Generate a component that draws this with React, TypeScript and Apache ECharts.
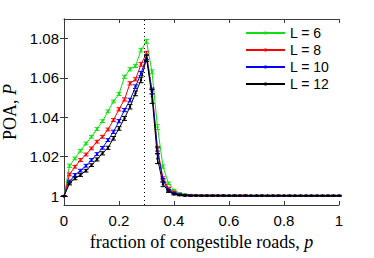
import React, { useEffect, useRef } from "react";
import * as echarts from "echarts";

const pValues = [
  0, 0.02, 0.04, 0.06, 0.08, 0.1, 0.12, 0.14, 0.16, 0.18, 0.2, 0.22, 0.24, 0.26, 0.28, 0.3,
  0.32, 0.34, 0.36, 0.38, 0.4, 0.42, 0.44, 0.46, 0.48, 0.5, 0.52, 0.54, 0.56, 0.58, 0.6,
  0.62, 0.64, 0.66, 0.68, 0.7, 0.72, 0.74, 0.76, 0.78, 0.8, 0.82, 0.84, 0.86, 0.88, 0.9,
  0.92, 0.94, 0.96, 0.98, 1.0,
];

const seriesNames = ["L = 6", "L = 8", "L = 10", "L = 12"];
const seriesColors = ["#10e010", "#ff0000", "#0000ff", "#000000"];

const poaL6 = [
  1.0, 1.0154, 1.0191, 1.023, 1.0267, 1.0301, 1.034, 1.038, 1.043, 1.048, 1.0518, 1.0605,
  1.0643, 1.066, 1.074, 1.0785, 1.063, 1.035, 1.015, 1.0065, 1.003, 1.0015, 1.0008, 1.0006,
  1.0005, 1.0004, 1.0004, 1.0003, 1.0004, 1.0003, 1.0003, 1.0004, 1.0003, 1.0003, 1.0002,
  1.0003, 1.0003, 1.0002, 1.0003, 1.0002, 1.0002, 1.0003, 1.0002, 1.0002, 1.0002, 1.0002,
  1.0002, 1.0002, 1.0002, 1.0002, 1.0002,
];
const poaL8 = [
  1.0, 1.011, 1.0149, 1.0183, 1.0211, 1.0242, 1.0276, 1.0301, 1.0338, 1.0386, 1.044, 1.049,
  1.0572, 1.0592, 1.0668, 1.0724, 1.053, 1.024, 1.009, 1.004, 1.002, 1.001, 1.0006, 1.0004,
  1.0004, 1.0003, 1.0003, 1.0004, 1.0003, 1.0003, 1.0002, 1.0003, 1.0003, 1.0004, 1.0002,
  1.0002, 1.0003, 1.0002, 1.0002, 1.0003, 1.0002, 1.0002, 1.0002, 1.0002, 1.0002, 1.0002,
  1.0002, 1.0002, 1.0002, 1.0002, 1.0002,
];
const poaL10 = [
  1.0, 1.0074, 1.0107, 1.0129, 1.0154, 1.0183, 1.0213, 1.0245, 1.0284, 1.0326, 1.038, 1.0436,
  1.0487, 1.0555, 1.0622, 1.0704, 1.0533, 1.023, 1.008, 1.003, 1.0015, 1.0008, 1.0005,
  1.0003, 1.0003, 1.0002, 1.0003, 1.0002, 1.0002, 1.0003, 1.0002, 1.0002, 1.0002, 1.0002,
  1.0002, 1.0002, 1.0002, 1.0002, 1.0002, 1.0002, 1.0002, 1.0002, 1.0002, 1.0002, 1.0002,
  1.0002, 1.0002, 1.0002, 1.0002, 1.0002, 1.0002,
];
const poaL12 = [
  1.0, 1.0064, 1.009, 1.0107, 1.0129, 1.0157, 1.0186, 1.0217, 1.0245, 1.0293, 1.0343, 1.0394,
  1.0453, 1.0521, 1.0589, 1.0699, 1.0505, 1.019, 1.006, 1.0025, 1.001, 1.0005, 1.0003,
  1.0002, 1.0002, 1.0002, 1.0002, 1.0002, 1.0002, 1.0002, 1.0002, 1.0002, 1.0002, 1.0002,
  1.0002, 1.0002, 1.0002, 1.0002, 1.0002, 1.0002, 1.0002, 1.0002, 1.0002, 1.0002, 1.0002,
  1.0002, 1.0002, 1.0002, 1.0002, 1.0002, 1.0002,
];

const errL6 = [
  0, 0.0008, 0.0007, 0.0007, 0.0007, 0.0007, 0.0007, 0.0007, 0.0007, 0.0007, 0.0008, 0.0008,
  0.0008, 0.0008, 0.0009, 0.001, 0.001, 0.0012, 0.0008, 0.0006, 0.0004, 0.0003, 0.0003,
  0.0002, 0.0002, 0.0002, 0.0002, 0.0002, 0.0002, 0.0002, 0.0002, 0.0002, 0.0002, 0.0002,
  0.0002, 0.0002, 0.0002, 0.0002, 0.0002, 0.0002, 0.0002, 0.0002, 0.0002, 0.0002, 0.0002,
  0.0002, 0.0002, 0.0002, 0.0002, 0.0002, 0.0002,
];
const errL8 = [
  0, 0.0007, 0.0007, 0.0007, 0.0007, 0.0007, 0.0007, 0.0007, 0.0007, 0.0007, 0.0008, 0.0008,
  0.0008, 0.0008, 0.0009, 0.001, 0.0012, 0.0012, 0.0008, 0.0005, 0.0004, 0.0003, 0.0003,
  0.0002, 0.0002, 0.0002, 0.0002, 0.0002, 0.0002, 0.0002, 0.0002, 0.0002, 0.0002, 0.0002,
  0.0002, 0.0002, 0.0002, 0.0002, 0.0002, 0.0002, 0.0002, 0.0002, 0.0002, 0.0002, 0.0002,
  0.0002, 0.0002, 0.0002, 0.0002, 0.0002, 0.0002,
];
const errL10 = [
  0, 0.0007, 0.0007, 0.0007, 0.0007, 0.0007, 0.0007, 0.0007, 0.0007, 0.0008, 0.0008, 0.0008,
  0.0009, 0.0009, 0.001, 0.0012, 0.0015, 0.0015, 0.0009, 0.0005, 0.0004, 0.0003, 0.0003,
  0.0002, 0.0002, 0.0002, 0.0002, 0.0002, 0.0002, 0.0002, 0.0002, 0.0002, 0.0002, 0.0002,
  0.0002, 0.0002, 0.0002, 0.0002, 0.0002, 0.0002, 0.0002, 0.0002, 0.0002, 0.0002, 0.0002,
  0.0002, 0.0002, 0.0002, 0.0002, 0.0002, 0.0002,
];
const errL12 = [
  0, 0.0007, 0.0007, 0.0007, 0.0007, 0.0007, 0.0008, 0.0008, 0.0008, 0.0009, 0.0009, 0.001,
  0.0011, 0.0012, 0.0014, 0.0016, 0.0035, 0.0025, 0.0012, 0.0006, 0.0004, 0.0003, 0.0003,
  0.0002, 0.0002, 0.0002, 0.0002, 0.0002, 0.0002, 0.0002, 0.0002, 0.0002, 0.0002, 0.0002,
  0.0002, 0.0002, 0.0002, 0.0002, 0.0002, 0.0002, 0.0002, 0.0002, 0.0002, 0.0002, 0.0002,
  0.0002, 0.0002, 0.0002, 0.0002, 0.0002, 0.0002,
];

const yTicks = [1, 1.02, 1.04, 1.06, 1.08];
const criticalP = 0.288;

const allValues = [poaL6, poaL8, poaL10, poaL12];
const allErrors = [errL6, errL8, errL10, errL12];

const SANS = "'Liberation Sans', Arial, Helvetica, sans-serif";
const SERIF = "'Liberation Serif', 'Times New Roman', serif";
const AXIS_COLOR = "#3a3a3a";

export default function App() {
  const ref = useRef<HTMLDivElement>(null);
  useEffect(() => {
    if (!ref.current) return;
    const chart = echarts.init(ref.current, undefined, { renderer: "svg" });

    const lineSeries = seriesNames.map((name, i) => ({
      name,
      type: "line",
      xAxisIndex: 0,
      yAxisIndex: 0,
      data: pValues.map((p, j) => [p, allValues[i][j]]),
      symbol: "circle",
      symbolSize: 2.5,
      showSymbol: true,
      itemStyle: { color: seriesColors[i] },
      lineStyle: { color: seriesColors[i], width: 1 },
      z: 3 + i,
      ...(i === 0
        ? {
            markLine: {
              silent: true,
              symbol: "none",
              label: { show: false },
              lineStyle: { color: "#000", type: [1, 3], width: 1 },
              data: [{ xAxis: criticalP }],
            },
          }
        : {}),
    }));

    const errSeries = seriesNames.map((name, i) => ({
      name: name + " err",
      type: "custom",
      xAxisIndex: 0,
      yAxisIndex: 0,
      z: 3 + i,
      data: pValues.map((p, j) => [p, allValues[i][j], allErrors[i][j]]),
      renderItem: (params: any, api: any) => {
        const x = api.value(0);
        const y = api.value(1);
        const e = api.value(2);
        const top = api.coord([x, y + e]);
        const bot = api.coord([x, y - e]);
        const hw = 2.5;
        const st = { stroke: seriesColors[i], lineWidth: 1 };
        return {
          type: "group",
          children: [
            { type: "line", shape: { x1: top[0], y1: top[1], x2: bot[0], y2: bot[1] }, style: st },
            { type: "line", shape: { x1: top[0] - hw, y1: top[1], x2: top[0] + hw, y2: top[1] }, style: st },
            { type: "line", shape: { x1: bot[0] - hw, y1: bot[1], x2: bot[0] + hw, y2: bot[1] }, style: st },
          ],
        };
      },
    }));

    const yMin = 0.9955;
    const yMax = 1.0898;

    chart.setOption({
      animation: false,
      grid: {
        left: 64,
        right: 35,
        top: 19,
        bottom: 53,
        containLabel: false,
        outerBoundsMode: "none",
      },
      legend: {
        data: seriesNames,
        orient: "vertical",
        left: 240,
        top: 21,
        itemWidth: 39,
        itemHeight: 4,
        itemGap: 3,
        textStyle: { fontFamily: SANS, fontSize: 14, color: "#000", lineHeight: 14 },
      },
      xAxis: [
        {
          type: "value",
          min: 0,
          max: 1,
          interval: 0.2,
          position: "bottom",
          axisLine: { show: true, lineStyle: { color: AXIS_COLOR, width: 1 } },
          axisTick: { show: true, inside: true, length: 4, lineStyle: { color: AXIS_COLOR } },
          splitLine: { show: false },
          axisLabel: {
            fontFamily: SANS,
            fontSize: 15,
            color: "#000",
            margin: 8,
            formatter: (v: number) => (v === 0 || v === 1 ? String(v) : v.toFixed(1)),
          },
          name: "fraction of congestible roads, {i|p}",
          nameLocation: "middle",
          nameGap: 26,
          nameTextStyle: {
            fontFamily: SERIF,
            fontSize: 18,
            color: "#000",
            rich: { i: { fontFamily: SERIF, fontSize: 18, fontStyle: "italic", color: "#000" } },
          },
        },
        {
          type: "value",
          min: 0,
          max: 1,
          interval: 0.2,
          position: "top",
          axisLine: { show: true, lineStyle: { color: AXIS_COLOR, width: 1 } },
          axisTick: { show: true, inside: true, length: 4, lineStyle: { color: AXIS_COLOR } },
          axisLabel: { show: false },
          splitLine: { show: false },
        },
      ],
      yAxis: [
        {
          type: "value",
          min: yMin,
          max: yMax,
          position: "left",
          axisLine: { show: true, lineStyle: { color: AXIS_COLOR, width: 1 } },
          axisTick: { show: true, inside: true, length: 4, lineStyle: { color: AXIS_COLOR }, customValues: yTicks },
          splitLine: { show: false },
          axisLabel: {
            fontFamily: SANS,
            fontSize: 15,
            color: "#000",
            margin: 5,
            customValues: yTicks,
            formatter: (v: number) => (Math.abs(v - 1) < 1e-9 ? "1" : v.toFixed(2)),
          },
          name: "POA, {i|P}",
          nameLocation: "middle",
          nameRotate: 90,
          nameGap: 40,
          nameTextStyle: {
            fontFamily: SERIF,
            fontSize: 18,
            color: "#000",
            rich: { i: { fontFamily: SERIF, fontSize: 18, fontStyle: "italic", color: "#000" } },
          },
        },
        {
          type: "value",
          min: yMin,
          max: yMax,
          position: "right",
          axisLine: { show: true, lineStyle: { color: AXIS_COLOR, width: 1 } },
          axisTick: { show: true, inside: true, length: 4, lineStyle: { color: AXIS_COLOR }, customValues: yTicks },
          axisLabel: { show: false },
          splitLine: { show: false },
        },
      ],
      series: [...errSeries, ...lineSeries],
    });

    return () => chart.dispose();
  }, []);

  return (
    <div
      ref={ref}
      style={{ position: "fixed", left: 0, top: 0, width: 374, height: 258, background: "#fff" }}
    />
  );
}
